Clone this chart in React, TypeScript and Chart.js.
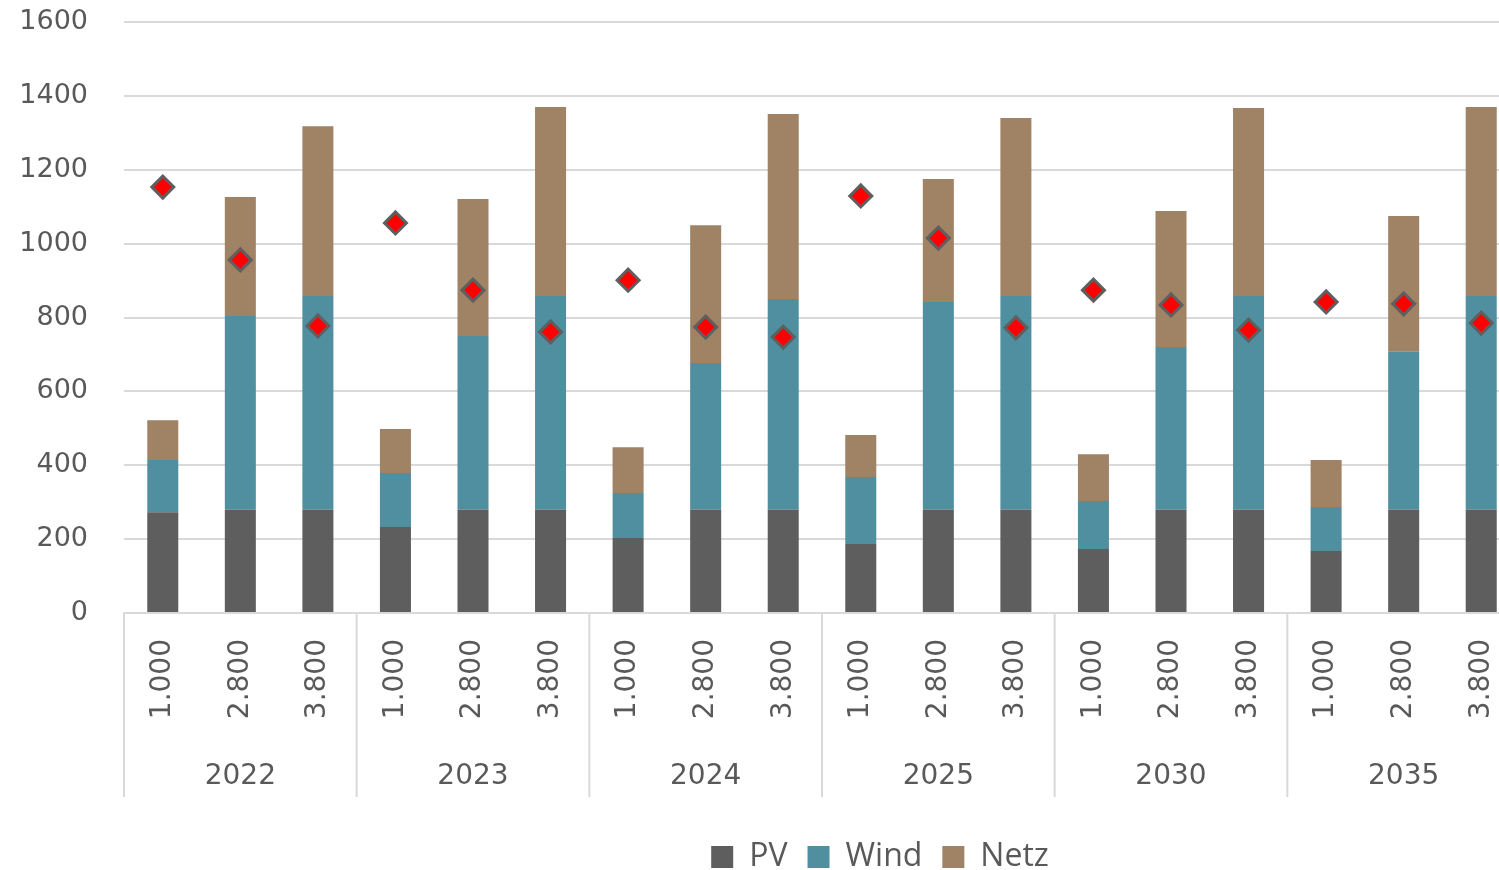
import React, { useEffect, useRef } from 'react';
import { Chart, registerables } from 'chart.js';

Chart.register(...registerables);

const years = ['2022', '2023', '2024', '2025', '2030', '2035'];
const capacities = ['1.000', '2.800', '3.800'];
const pv = [273, 280, 280, 233, 280, 280, 203, 280, 280, 187, 280, 280, 173, 280, 280, 168, 280, 280];
const wind = [141, 524, 578, 146, 470, 578, 122, 397, 570, 181, 562, 578, 130, 440, 578, 119, 427, 578];
const netz = [108, 322, 460, 119, 371, 512, 124, 373, 501, 114, 333, 482, 127, 368, 509, 127, 368, 512];
const marker = [1153, 956, 777, 1056, 874, 761, 901, 774, 747, 1129, 1015, 772, 874, 834, 766, 842, 837, 785];
const yMin = 0;
const yMax = 1600;
const yStep = 200;

const labels = years.flatMap(() => capacities);

const TEXT = '#595959';
const GRID = '#d9d9d9';

const groupPlugin = {
  id: 'groups',
  afterDraw(chart: any) {
    const { ctx, chartArea, scales } = chart;
    const x = scales.x;
    const n = capacities.length;
    const catW = (chartArea.right - chartArea.left) / labels.length;
    ctx.save();
    ctx.strokeStyle = GRID;
    ctx.lineWidth = 2;
    ctx.fillStyle = TEXT;
    ctx.font = '28px "DejaVu Sans"';
    ctx.textAlign = 'center';
    ctx.textBaseline = 'middle';
    years.forEach((yr, g) => {
      const left = x.getPixelForValue(g * n) - catW / 2;
      const right = x.getPixelForValue(g * n + n - 1) + catW / 2;
      ctx.beginPath();
      ctx.moveTo(left, chartArea.bottom);
      ctx.lineTo(left, chartArea.bottom + 184);
      if (g === years.length - 1) {
        ctx.moveTo(right, chartArea.bottom);
        ctx.lineTo(right, chartArea.bottom + 184);
      }
      ctx.stroke();
      ctx.fillText(yr, (left + right) / 2, chartArea.bottom + 164);
    });
    ctx.restore();
  },
};

export default function App() {
  const ref = useRef<HTMLCanvasElement>(null);
  useEffect(() => {
    document.documentElement.style.overflow = 'hidden';
    document.body.style.margin = '0';
    document.body.style.overflow = 'hidden';
    const chart = new Chart(ref.current as HTMLCanvasElement, {
      type: 'bar',
      data: {
        labels,
        datasets: [
          {
            type: 'line',
            label: 'Marker',
            data: marker,
            showLine: false,
            pointStyle: 'rectRot',
            pointRadius: 11,
            pointBackgroundColor: '#ff0000',
            pointBorderColor: '#5f5f5f',
            pointBorderWidth: 3,
            order: 0,
            stack: 'marker',
          } as any,
          { label: 'PV', data: pv, backgroundColor: '#5e5e5e', stack: 's', order: 1 },
          { label: 'Wind', data: wind, backgroundColor: '#508fa0', stack: 's', order: 1 },
          { label: 'Netz', data: netz, backgroundColor: '#a08265', stack: 's', order: 1 },
        ],
      },
      options: {
        responsive: false,
        animation: false,
        layout: { padding: { top: 22, left: 0, right: 0, bottom: 0 } },
        datasets: { bar: { barPercentage: 0.4, categoryPercentage: 1 } },
        plugins: {
          tooltip: { enabled: false },
          legend: {
            position: 'bottom',
            labels: {
              boxWidth: 22,
              boxHeight: 22,
              padding: 20,
              color: TEXT,
              font: { family: '"Open Sans"', size: 32 },
              filter: (item: any) => item.text !== 'Marker',
            },
          },
        },
        scales: {
          x: {
            stacked: true,
            grid: { display: false, drawTicks: false },
            border: { display: true, color: GRID, width: 2 },
            ticks: {
              autoSkip: false,
              minRotation: 90,
              maxRotation: 90,
              padding: 26,
              color: TEXT,
              font: { family: '"DejaVu Sans"', size: 28 },
            },
            afterFit: (s: any) => {
              s.height = 208;
            },
          },
          y: {
            stacked: true,
            min: yMin,
            max: yMax,
            ticks: {
              stepSize: yStep,
              padding: 36,
              color: TEXT,
              font: { family: '"DejaVu Sans"', size: 27 },
              callback: (v: any) => String(v),
            },
            grid: { color: GRID, lineWidth: 2, drawTicks: false },
            border: { display: false },
            afterFit: (s: any) => {
              s.width = 124;
              s.paddingTop = 0;
              s.paddingBottom = 0;
            },
          },
          y2: {
            position: 'right',
            display: true,
            grid: { display: false, drawTicks: false },
            border: { display: false },
            ticks: { display: false },
            afterFit: (s: any) => {
              s.width = 240;
            },
          },
        },
      },
      plugins: [groupPlugin],
    });
    return () => chart.destroy();
  }, []);
  return (
    <div style={{ position: 'fixed', left: 0, top: 0, width: 1760, height: 883 }}>
      <canvas ref={ref} width={1760} height={883} style={{ width: 1760, height: 883 }} />
    </div>
  );
}
